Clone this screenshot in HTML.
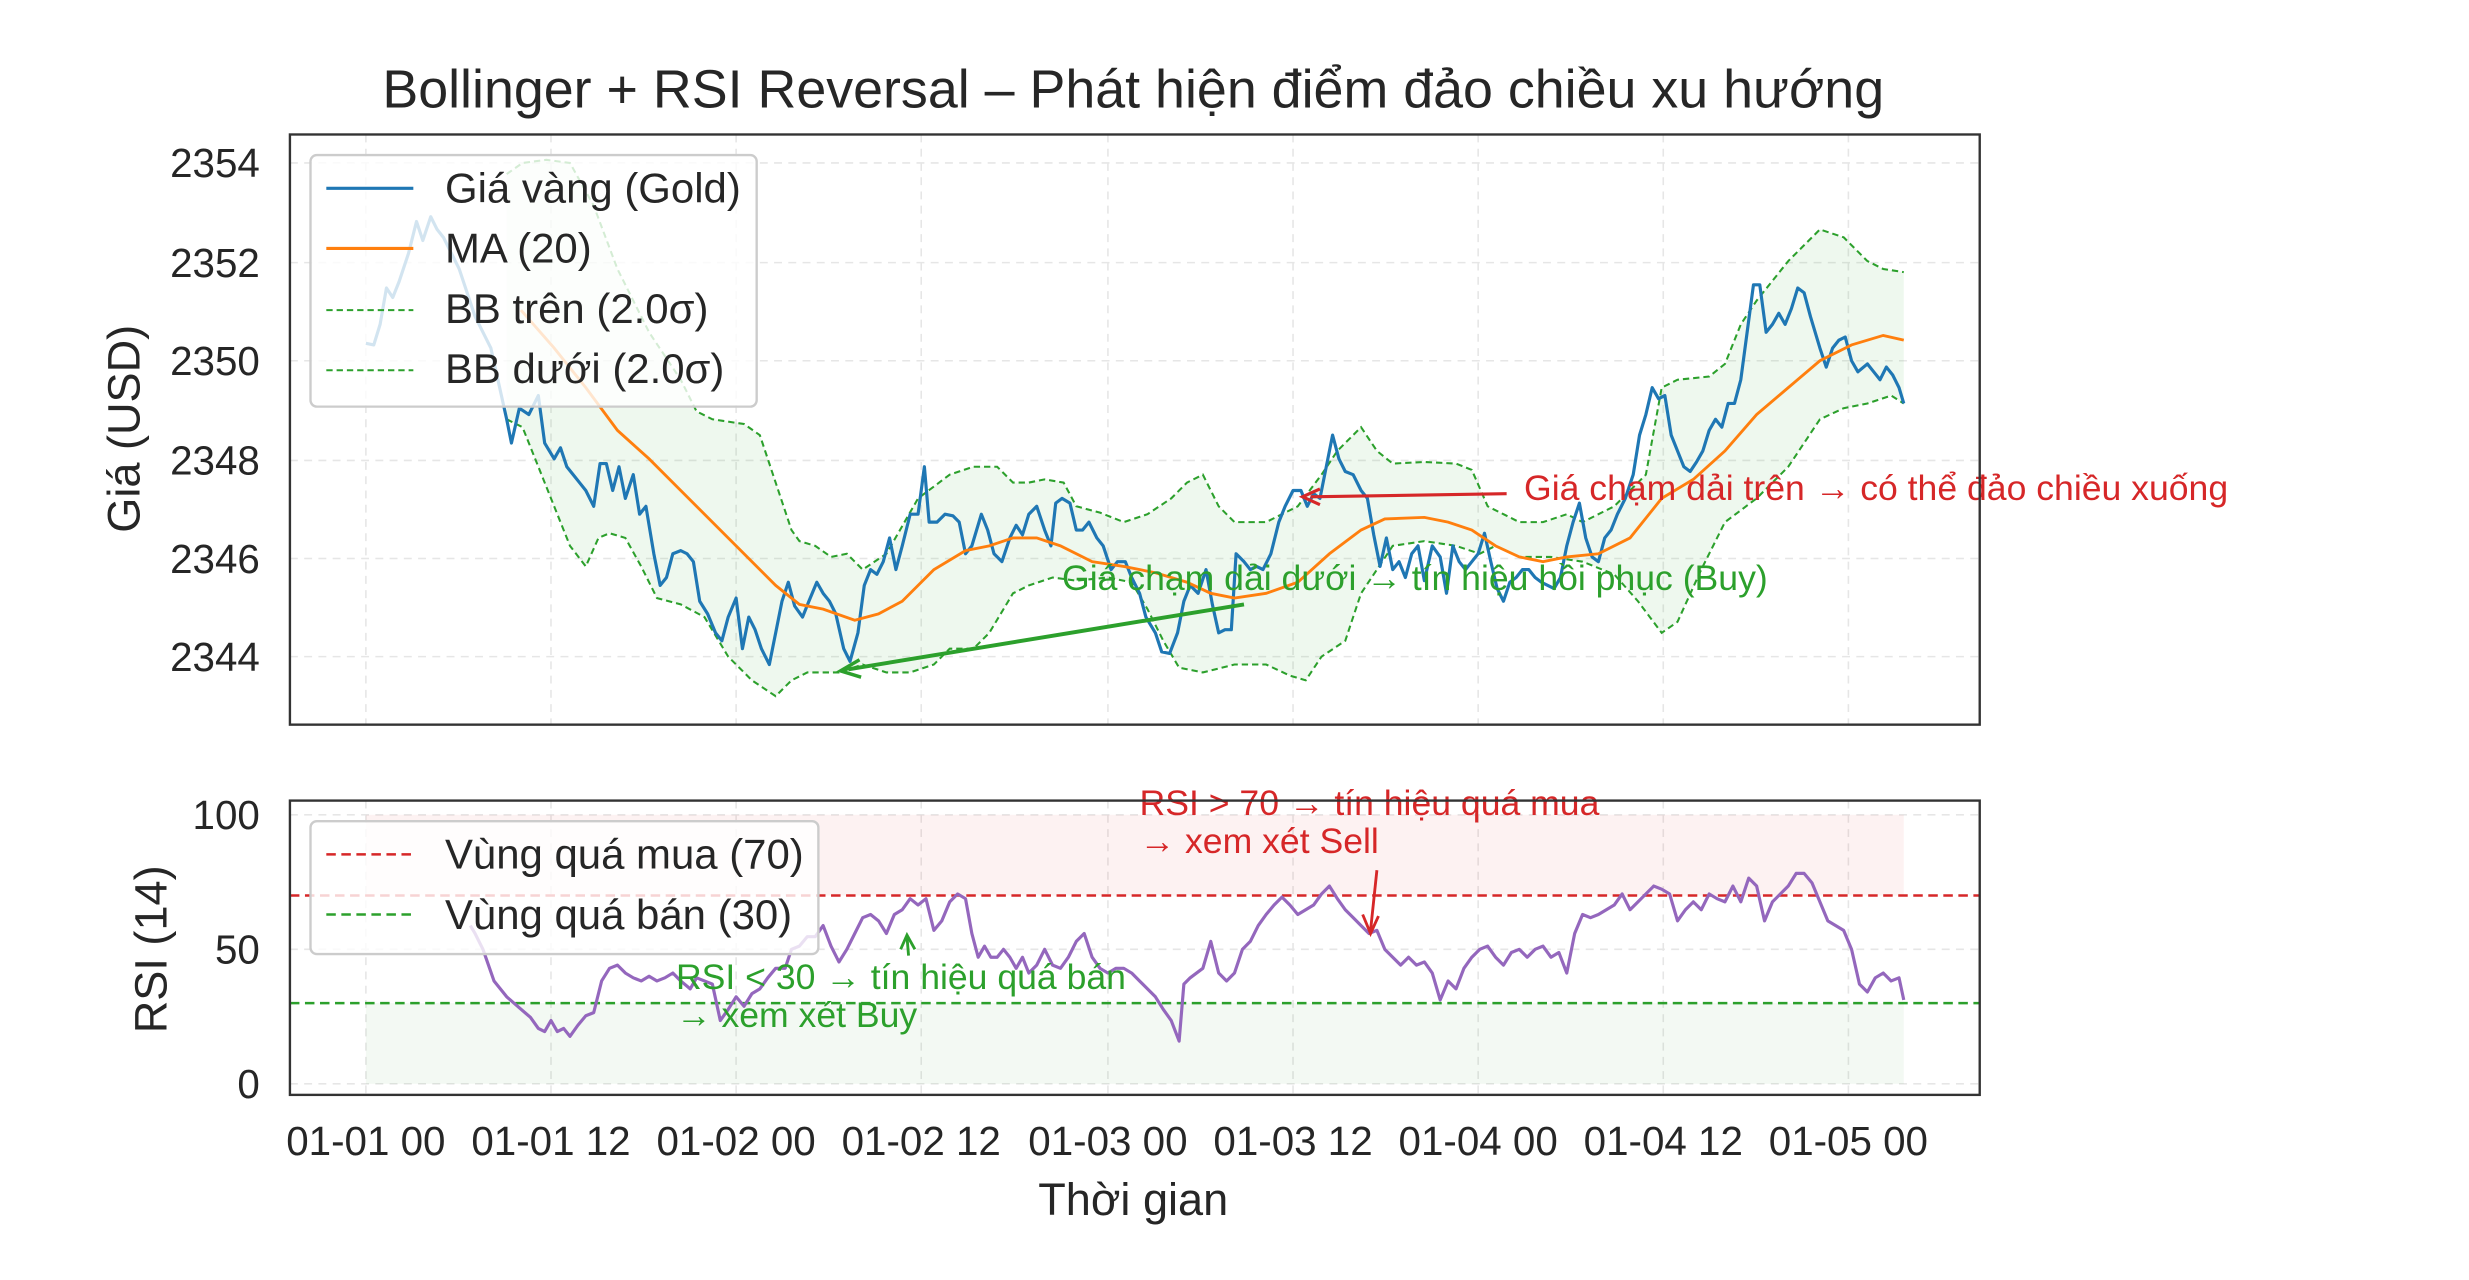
<!DOCTYPE html>
<html><head><meta charset="utf-8"><style>
html,body{margin:0;padding:0;background:#fff;}
svg{display:block;}
text{font-family:"Liberation Sans","DejaVu Sans",sans-serif;fill:#262626;}
</style></head><body>
<svg width="2469" height="1280" viewBox="0 0 1560 809" xmlns="http://www.w3.org/2000/svg">
<rect width="1560" height="809" fill="#fff"/>
<text x="716" y="68" font-size="34" text-anchor="middle">Bollinger + RSI Reversal – Phát hiện điểm đảo chiều xu hướng</text>

<!-- TOP AXES -->
<g stroke="#e6e6e6" stroke-width="1" stroke-dasharray="5,4" fill="none">
<path d="M231 85V458M348 85V458M465 85V458M582 85V458M700 85V458M817 85V458M934 85V458M1051 85V458M1168 85V458"/>
<path d="M183 103H1251M183 166H1251M183 228H1251M183 291H1251M183 353H1251M183 415H1251"/>
</g>
<path d="M320 110L330 103L345 101L360 103L375 130L390 170L410 210L430 240L440 260L450 265L470 268L480 275L490 305L500 335L505 342L515 345L525 352L535 350L545 360L560 350L580 315L600 300L615 295L630 295L640 305L650 305L660 303L672 305L680 320L695 324L710 330L725 325L740 315L750 305L760 300L770 320L780 330L800 330L820 320L835 300L845 285L860 270L870 285L880 293L900 292L920 293L930 297L940 320L950 325L960 330L975 330L990 325L1000 330L1020 320L1040 300L1050 245L1060 240L1080 238L1090 230L1100 205L1110 190L1130 165L1150 145L1165 150L1180 165L1190 170L1203 172L1203 255L1195 250L1180 255L1165 258L1150 265L1130 295L1110 315L1090 330L1075 360L1060 393L1050 400L1035 380L1020 363L1000 355L980 352L960 352L945 345L935 350L920 345L900 342L880 345L870 360L860 375L850 405L835 415L825 430L815 427L800 420L780 420L760 425L745 422L735 405L725 385L715 368L700 365L680 367L665 365L650 370L640 375L625 400L615 410L600 410L590 420L575 425L560 425L545 420L530 425L510 425L500 430L490 440L475 430L460 415L445 390L430 382L415 378L405 358L395 340L385 337L378 340L370 358L360 345L350 320L340 295L330 270L320 265Z" fill="#2ca02c" fill-opacity="0.08" stroke="none"/>
<g fill="none" stroke="#2ca02c" stroke-width="1.3" stroke-dasharray="4,2.5">
<path d="M320 110L330 103L345 101L360 103L375 130L390 170L410 210L430 240L440 260L450 265L470 268L480 275L490 305L500 335L505 342L515 345L525 352L535 350L545 360L560 350L580 315L600 300L615 295L630 295L640 305L650 305L660 303L672 305L680 320L695 324L710 330L725 325L740 315L750 305L760 300L770 320L780 330L800 330L820 320L835 300L845 285L860 270L870 285L880 293L900 292L920 293L930 297L940 320L950 325L960 330L975 330L990 325L1000 330L1020 320L1040 300L1050 245L1060 240L1080 238L1090 230L1100 205L1110 190L1130 165L1150 145L1165 150L1180 165L1190 170L1203 172"/>
<path d="M320 265L330 270L340 295L350 320L360 345L370 358L378 340L385 337L395 340L405 358L415 378L430 382L445 390L460 415L475 430L490 440L500 430L510 425L530 425L545 420L560 425L575 425L590 420L600 410L615 410L625 400L640 375L650 370L665 365L680 367L700 365L715 368L725 385L735 405L745 422L760 425L780 420L800 420L815 427L825 430L835 415L850 405L860 375L870 360L880 345L900 342L920 345L935 350L945 345L960 352L980 352L1000 355L1020 363L1035 380L1050 400L1060 393L1075 360L1090 330L1110 315L1130 295L1150 265L1165 258L1180 255L1195 250L1203 255"/>
</g>
<path fill="none" stroke="#1f77b4" stroke-width="2" stroke-linejoin="round" d="M231 217L236 218L240 205L244 182L248 188L252 178L258 160L263 140L267 152L272 137L276 145L280 150L290 170L300 200L310 220L320 265L323 280L328 258L334 262L340 250L344 280L350 290L354 283L358 295L362 300L366 305L370 310L375 320L379 293L383 293L387 310L391 295L395 315L400 300L404 325L408 320L413 350L417 370L421 365L425 350L430 348L434 350L438 355L442 380L447 388L452 400L456 405L460 390L465 378L469 410L473 390L477 398L481 410L486 420L490 400L494 380L498 368L502 383L507 390L511 380L516 368L520 375L524 380L528 388L533 410L537 418L542 400L546 370L550 360L554 363L558 355L562 340L566 360L570 345L575 325L580 325L584 295L587 330L592 330L597 325L602 326L606 330L610 350L614 345L620 325L624 335L628 350L633 355L638 340L642 332L646 338L650 325L655 320L660 335L664 345L667 318L671 315L676 318L680 335L684 335L688 330L693 340L697 345L702 360L706 355L711 355L715 365L720 375L724 390L730 400L734 412L739 413L744 400L748 380L752 370L757 375L762 360L766 382L770 400L774 398L778 398L781 350L786 355L790 360L794 358L798 360L803 350L808 330L812 320L817 310L822 310L826 320L830 312L834 315L838 295L842 275L846 290L850 298L855 300L860 310L864 315L868 338L872 358L876 340L880 360L884 355L888 365L892 350L896 345L900 367L905 345L910 352L914 375L918 345L922 355L926 360L930 355L934 350L938 337L942 355L946 372L950 380L954 368L958 365L962 360L966 360L970 365L974 368L978 370L982 372L986 365L990 345L994 330L998 318L1002 340L1006 352L1010 355L1014 340L1018 335L1022 325L1027 315L1032 300L1036 275L1040 262L1044 245L1048 252L1052 250L1056 275L1060 285L1064 295L1068 298L1072 292L1076 285L1080 272L1084 265L1088 270L1092 255L1096 255L1100 240L1104 210L1108 180L1112 180L1116 210L1120 205L1124 198L1128 205L1132 195L1136 182L1140 185L1144 200L1150 220L1154 232L1158 220L1162 215L1166 213L1170 228L1174 235L1180 230L1184 235L1188 240L1192 232L1196 237L1200 245L1203 255"/>
<path fill="none" stroke="#ff7f0e" stroke-width="1.8" d="M329 196L350 220L370 245L390 272L410 290L430 310L450 330L470 350L490 370L505 382L520 385L540 392L555 388L570 380L590 360L610 348L625 345L640 340L655 340L670 345L690 355L710 358L730 362L750 368L765 375L780 378L800 375L820 368L840 350L860 335L875 328L900 327L915 330L930 335L945 345L960 352L975 355L990 352L1010 350L1030 340L1050 315L1070 303L1090 285L1110 262L1130 245L1150 228L1170 218L1190 212L1203 215"/>
<!-- annotations top -->
<line x1="952" y1="312" x2="828" y2="314" stroke="#d62728" stroke-width="2"/>
<path d="M834 309L823 314L834 319" fill="none" stroke="#d62728" stroke-width="2"/>
<text x="963" y="316" font-size="22.5" style="fill:#d62728">Giá chạm dải trên → có thể đảo chiều xuống</text>
<line x1="786" y1="382" x2="536" y2="423" stroke="#2ca02c" stroke-width="2.5"/>
<path d="M543 417L531 424L544 428" fill="none" stroke="#2ca02c" stroke-width="2.2"/>
<text x="671" y="373" font-size="22.5" style="fill:#2ca02c">Giá chạm dải dưới → tín hiệu hồi phục (Buy)</text>
<!-- legend top -->
<rect x="196" y="98" width="282" height="159" rx="4" fill="#fff" fill-opacity="0.8" stroke="#cccccc" stroke-width="1.5"/>
<line x1="206" y1="119" x2="261" y2="119" stroke="#1f77b4" stroke-width="2"/>
<line x1="206" y1="157" x2="261" y2="157" stroke="#ff7f0e" stroke-width="2"/>
<line x1="206" y1="196" x2="261" y2="196" stroke="#2ca02c" stroke-width="1.3" stroke-dasharray="4,2.5"/>
<line x1="206" y1="234" x2="261" y2="234" stroke="#2ca02c" stroke-width="1.3" stroke-dasharray="4,2.5"/>
<g font-size="26.5"><text x="281" y="128">Giá vàng (Gold)</text><text x="281" y="166">MA (20)</text><text x="281" y="204">BB trên (2.0σ)</text><text x="281" y="242">BB dưới (2.0σ)</text></g>
<rect x="183" y="85" width="1068" height="373" fill="none" stroke="#333" stroke-width="1.5"/>
<g font-size="25.5" text-anchor="end"><text x="164" y="112">2354</text><text x="164" y="175">2352</text><text x="164" y="237">2350</text><text x="164" y="300">2348</text><text x="164" y="362">2346</text><text x="164" y="424">2344</text></g>
<text transform="translate(88,271) rotate(-90)" font-size="28.5" text-anchor="middle">Giá (USD)</text>

<!-- BOTTOM AXES -->
<g stroke="#e6e6e6" stroke-width="1" stroke-dasharray="5,4" fill="none">
<path d="M231 506V692M348 506V692M465 506V692M582 506V692M700 506V692M817 506V692M934 506V692M1051 506V692M1168 506V692"/>
<path d="M183 515H1251M183 600H1251M183 685H1251"/>
</g>
<rect x="231" y="515" width="972" height="51" fill="#d62728" fill-opacity="0.06"/>
<rect x="231" y="634" width="972" height="51" fill="#2ca02c" fill-opacity="0.06"/>
<line x1="183" y1="566" x2="1251" y2="566" stroke="#d62728" stroke-width="1.6" stroke-dasharray="6,3.5"/>
<line x1="183" y1="634" x2="1251" y2="634" stroke="#2ca02c" stroke-width="1.6" stroke-dasharray="6,3.5"/>
<path fill="none" stroke="#9467bd" stroke-width="2" stroke-linejoin="round" d="M297 585L300 590L305 600L312 620L320 630L328 637L335 643L340 650L344 652L348 645L352 652L356 650L360 655L365 648L370 642L375 640L380 620L385 612L390 610L395 615L400 618L405 620L410 617L415 620L420 618L425 615L430 620L436 625L440 618L445 620L450 622L455 645L460 638L465 630L470 636L475 628L480 625L485 618L490 612L496 612L500 600L505 598L510 592L515 592L520 585L525 598L530 608L535 600L540 590L545 580L550 578L555 582L560 590L565 578L570 575L575 568L580 572L585 568L590 588L595 582L600 570L605 565L610 568L614 590L618 605L622 598L626 605L630 605L634 600L638 605L642 612L646 605L650 615L655 610L660 600L665 610L670 612L675 605L680 595L685 590L690 605L695 612L700 615L705 612L710 612L715 615L720 620L725 625L730 630L735 638L740 645L745 658L748 622L752 618L756 615L760 612L765 595L770 615L775 620L780 615L785 600L790 595L795 585L800 578L805 572L810 567L815 572L820 578L825 575L830 572L835 565L840 560L845 568L850 575L855 580L860 585L865 590L870 588L875 600L880 605L885 610L890 605L895 610L900 608L905 615L910 632L915 620L920 625L925 612L930 605L935 600L940 598L945 605L950 610L955 602L960 600L965 605L970 600L975 598L980 605L985 602L990 615L995 590L1000 578L1005 580L1010 578L1015 575L1020 572L1025 565L1030 575L1035 570L1040 565L1045 560L1050 562L1055 565L1060 582L1065 575L1070 570L1075 575L1080 565L1085 568L1090 570L1095 560L1100 570L1105 555L1110 560L1115 582L1120 570L1125 565L1130 560L1135 552L1140 552L1145 558L1150 570L1155 582L1160 585L1165 588L1170 600L1175 622L1180 627L1185 618L1190 615L1195 620L1200 618L1203 632"/>
<!-- annotations bottom -->
<line x1="870" y1="550" x2="866" y2="588" stroke="#d62728" stroke-width="1.8"/>
<path d="M861 578L866 590L871 579" fill="none" stroke="#d62728" stroke-width="1.8"/>
<text x="720" y="515" font-size="22.5" style="fill:#d62728">RSI &gt; 70 → tín hiệu quá mua</text>
<text x="720" y="539" font-size="22.5" style="fill:#d62728">→ xem xét Sell</text>
<line x1="574" y1="604" x2="573" y2="592" stroke="#2ca02c" stroke-width="1.8"/>
<path d="M569 600L573 591L578 600" fill="none" stroke="#2ca02c" stroke-width="1.8"/>
<text x="427" y="625" font-size="22.5" style="fill:#2ca02c">RSI &lt; 30 → tín hiệu quá bán</text>
<text x="427" y="649" font-size="22.5" style="fill:#2ca02c">→ xem xét Buy</text>
<!-- legend bottom -->
<rect x="196" y="519" width="321" height="84" rx="4" fill="#fff" fill-opacity="0.8" stroke="#cccccc" stroke-width="1.5"/>
<line x1="206" y1="540" x2="261" y2="540" stroke="#d62728" stroke-width="1.6" stroke-dasharray="6,3.5"/>
<line x1="206" y1="578" x2="261" y2="578" stroke="#2ca02c" stroke-width="1.6" stroke-dasharray="6,3.5"/>
<g font-size="26.5"><text x="281" y="549">Vùng quá mua (70)</text><text x="281" y="587">Vùng quá bán (30)</text></g>
<rect x="183" y="506" width="1068" height="186" fill="none" stroke="#333" stroke-width="1.5"/>
<g font-size="25.5" text-anchor="end"><text x="164" y="524">100</text><text x="164" y="609">50</text><text x="164" y="694">0</text></g>
<text transform="translate(105,600) rotate(-90)" font-size="28.5" text-anchor="middle">RSI (14)</text>
<g font-size="25.5" text-anchor="middle"><text x="231" y="730">01-01 00</text><text x="348" y="730">01-01 12</text><text x="465" y="730">01-02 00</text><text x="582" y="730">01-02 12</text><text x="700" y="730">01-03 00</text><text x="817" y="730">01-03 12</text><text x="934" y="730">01-04 00</text><text x="1051" y="730">01-04 12</text><text x="1168" y="730">01-05 00</text></g>
<text x="716" y="768" font-size="28.5" text-anchor="middle">Thời gian</text>
</svg>
</body></html>
